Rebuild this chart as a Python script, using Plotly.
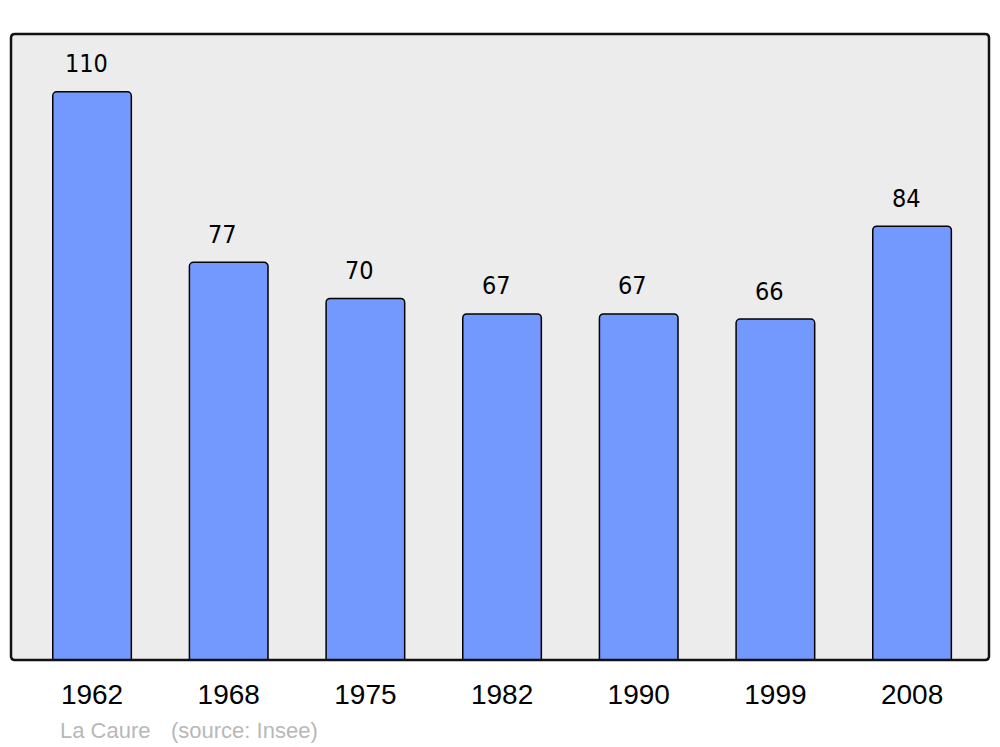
import plotly.graph_objects as go

years = ["1962", "1968", "1975", "1982", "1990", "1999", "2008"]
population = [110, 77, 70, 67, 67, 66, 84]
commune = "La Caure"
source = "(source: Insee)"

# page has an 8px body margin; compensate so the figure fills the 1000x747 window
OFF = 8
W, H = 1000 - OFF, 747 - OFF
L, T = 11 - OFF, 34 - OFF
R = W - (989 - OFF)
B = H - (660 - OFF)
pw, ph = W - L - R, H - T - B

xs = list(range(len(years)))

fig = go.Figure()
fig.add_trace(go.Bar(
    x=xs, y=population, width=0.575,
    marker=dict(color="#7399ff", line=dict(color="#000000", width=1.5)),
    hoverinfo="skip",
))

for i, v in zip(xs, population):
    fig.add_annotation(x=i, y=v, text=str(v), showarrow=False, xshift=-6, yshift=28,
                       yanchor="middle",
                       font=dict(size=25, color="#000000", family="DejaVu Sans Condensed, DejaVu Sans"))

src_font = dict(size=22, color="#b8b8b8", family="Liberation Sans")
fig.add_annotation(xref="paper", yref="paper", x=47 / pw, y=(660 - 730) / ph,
                   xanchor="left", yanchor="middle", showarrow=False,
                   text=commune, font=src_font)
fig.add_annotation(xref="paper", yref="paper", x=158 / pw, y=(660 - 730) / ph,
                   xanchor="left", yanchor="middle", showarrow=False,
                   text=source, font=src_font)

# rounded border of plot area
rx, ry = 4 / pw, 4 / ph
path = (f"M {rx},0 L {1-rx},0 Q 1,0 1,{ry} L 1,{1-ry} Q 1,1 {1-rx},1 "
        f"L {rx},1 Q 0,1 0,{1-ry} L 0,{ry} Q 0,0 {rx},0 Z")
fig.add_shape(type="path", xref="paper", yref="paper", path=path,
              line=dict(color="#111111", width=2.5), layer="above")

fig.update_layout(
    width=W, height=H,
    margin=dict(l=L, r=R, t=T, b=B),
    paper_bgcolor="#ffffff", plot_bgcolor="#ececec",
    showlegend=False, barcornerradius=4,
    font=dict(family="Liberation Sans", color="#000000"),
    xaxis=dict(range=[-0.593, 6.563], tickvals=xs, ticktext=years, showgrid=False,
               zeroline=False, showline=False, ticks="", tickfont=dict(size=28),
               ticklabelstandoff=15, fixedrange=True),
    yaxis=dict(range=[0, 121.2], showgrid=False, zeroline=False, showticklabels=False,
               showline=False, ticks="", fixedrange=True),
)

fig.write_html("out.html")
